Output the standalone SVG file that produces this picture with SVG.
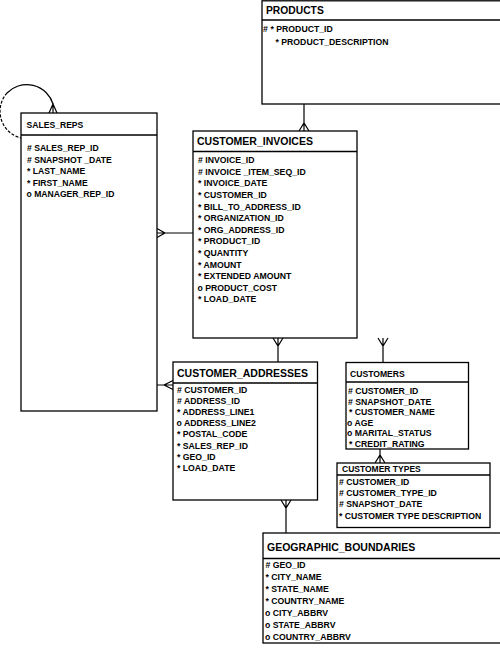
<svg xmlns="http://www.w3.org/2000/svg" width="500" height="652" viewBox="0 0 500 652">
<style>
.box{fill:#fff;stroke:#000;stroke-width:1.3}
.sep{stroke:#000;stroke-width:1.3}
.t{font-family:"Liberation Sans",Arial,Helvetica,sans-serif;font-weight:bold;fill:#000}
.ti{font-size:10.5px}
.ts{font-size:8.6px}
.a{font-size:8.7px}
.conn{stroke:#000;stroke-width:1.2;fill:none}
.dash{stroke-dasharray:3 1.6}
</style>
<rect width="500" height="652" fill="#fff"/>

<g id="connectors">
  <!-- PRODUCTS to CUSTOMER_INVOICES -->
  <path class="conn" d="M304 104 V131 M299 131 L304 123 L309 131"/>
  <!-- SALES_REPS self loop -->
  <path class="conn" d="M49 113 L53 104 L57 113 M53 113 V104"/>
  <path class="conn" d="M53 104 A27.5 27.5 0 0 0 7 93"/>
  <path class="conn dash" d="M7 93 A27.5 27.5 0 0 0 21 138"/>
  <!-- SALES_REPS to CUSTOMER_INVOICES -->
  <path class="conn" d="M157 233 H193 M157 228.5 L165 233 L157 237.5"/>
  <!-- SALES_REPS to CUSTOMER_ADDRESSES -->
  <path class="conn" d="M156 385 H173 M173 380.5 L164 385 L173 389.5"/>
  <!-- CUSTOMER_INVOICES to CUSTOMER_ADDRESSES -->
  <path class="conn" d="M278 338 V362 M273 338 L278 346 L283 338"/>
  <!-- CUSTOMER_INVOICES to CUSTOMERS -->
  <path class="conn" d="M383 338 V362.5 M378 338 L383 346 L388 338"/>
  <!-- CUSTOMERS to CUSTOMER TYPES -->
  <path class="conn" d="M380 449 V463 M375 463 L380 455 L385 463"/>
  <!-- CUSTOMER_ADDRESSES to GEOGRAPHIC_BOUNDARIES -->
  <path class="conn" d="M286 500 V533 M281 500 L286 508 L291 500"/>
</g>

<g id="products">
  <rect class="box" x="262" y="0.8" width="241" height="103.2"/>
  <line class="sep" x1="262" y1="20" x2="503" y2="20"/>
  <text class="t ti" x="266" y="13.8" style="font-size:10.3px">PRODUCTS</text>
  <text class="t a" x="263" y="32.4">#<tspan x="270.5">* PRODUCT_ID</tspan></text>
  <text class="t a" x="275.5" y="44.8">* PRODUCT_DESCRIPTION</text>
</g>

<g id="sales_reps">
  <rect class="box" x="21" y="113" width="136" height="298"/>
  <line class="sep" x1="21" y1="135" x2="157" y2="135"/>
  <text class="t ts" x="26.5" y="128.2">SALES_REPS</text>
  <g class="t ts">
    <text x="27" y="151.4"># SALES_REP_ID</text>
    <text x="27" y="162.9"># SNAPSHOT _DATE</text>
    <text x="27" y="174.4">* LAST_NAME</text>
    <text x="27" y="185.9">* FIRST_NAME</text>
    <text x="26.5" y="197.4">o MANAGER_REP_ID</text>
  </g>
</g>

<g id="customer_invoices">
  <rect class="box" x="193" y="131" width="164" height="207"/>
  <line class="sep" x1="193" y1="151.5" x2="357" y2="151.5"/>
  <text class="t ti" x="197" y="144.5">CUSTOMER_INVOICES</text>
  <g class="t a">
    <text x="198" y="163.1"># INVOICE_ID</text>
    <text x="198" y="174.7"># INVOICE _ITEM_SEQ_ID</text>
    <text x="198" y="186.3">* INVOICE_DATE</text>
    <text x="198" y="197.9">* CUSTOMER_ID</text>
    <text x="198" y="209.5">* BILL_TO_ADDRESS_ID</text>
    <text x="198" y="221.1">* ORGANIZATION_ID</text>
    <text x="198" y="232.7">* ORG_ADDRESS_ID</text>
    <text x="198" y="244.3">* PRODUCT_ID</text>
    <text x="198" y="255.9">* QUANTITY</text>
    <text x="198" y="267.5">* AMOUNT</text>
    <text x="198" y="279.1">* EXTENDED AMOUNT</text>
    <text x="197.5" y="290.7">o PRODUCT_COST</text>
    <text x="198" y="302.3">* LOAD_DATE</text>
  </g>
</g>

<g id="customer_addresses">
  <rect class="box" x="173" y="362" width="144.5" height="138"/>
  <line class="sep" x1="173" y1="383" x2="317.5" y2="383"/>
  <text class="t ti" x="177" y="376.5">CUSTOMER_ADDRESSES</text>
  <g class="t a">
    <text x="177" y="392.6"># CUSTOMER_ID</text>
    <text x="177" y="403.8"># ADDRESS_ID</text>
    <text x="177" y="415">* ADDRESS_LINE1</text>
    <text x="176.5" y="426.2">o ADDRESS_LINE2</text>
    <text x="177" y="437.4">* POSTAL_CODE</text>
    <text x="177" y="448.6">* SALES_REP_ID</text>
    <text x="177" y="459.8">* GEO_ID</text>
    <text x="177" y="471">* LOAD_DATE</text>
  </g>
</g>

<g id="customers">
  <rect class="box" x="346" y="362.5" width="122.5" height="86.5"/>
  <line class="sep" x1="346" y1="382" x2="468.5" y2="382"/>
  <text class="t ts" x="350" y="376.5">CUSTOMERS</text>
  <g class="t a">
    <text x="348" y="394"># CUSTOMER_ID</text>
    <text x="348" y="404.6"># SNAPSHOT_DATE</text>
    <text x="349" y="415.2">* CUSTOMER_NAME</text>
    <text x="347" y="425.8">o AGE</text>
    <text x="347" y="436.4">o MARITAL_STATUS</text>
    <text x="349" y="447">* CREDIT_RATING</text>
  </g>
</g>

<g id="customer_types">
  <rect class="box" x="337" y="463" width="153" height="64.5"/>
  <line class="sep" x1="337" y1="475" x2="490" y2="475"/>
  <text class="t" x="342" y="472.2" style="font-size:8.5px">CUSTOMER TYPES</text>
  <g class="t a">
    <text x="339" y="484.6"># CUSTOMER_ID</text>
    <text x="339" y="495.9"># CUSTOMER_TYPE_ID</text>
    <text x="339" y="507.2"># SNAPSHOT_DATE</text>
    <text x="339" y="518.5">* CUSTOMER TYPE DESCRIPTION</text>
  </g>
</g>

<g id="geographic_boundaries">
  <rect class="box" x="263" y="533" width="241" height="110"/>
  <line class="sep" x1="263" y1="558.5" x2="504" y2="558.5"/>
  <text class="t ti" x="267" y="550.5">GEOGRAPHIC_BOUNDARIES</text>
  <g class="t a">
    <text x="265.5" y="567.6"># GEO_ID</text>
    <text x="265.5" y="579.6">* CITY_NAME</text>
    <text x="265.5" y="591.6">* STATE_NAME</text>
    <text x="265.5" y="603.6">* COUNTRY_NAME</text>
    <text x="265" y="615.6">o CITY_ABBRV</text>
    <text x="265" y="627.6">o STATE_ABBRV</text>
    <text x="265" y="639.6">o COUNTRY_ABBRV</text>
  </g>
</g>
</svg>
